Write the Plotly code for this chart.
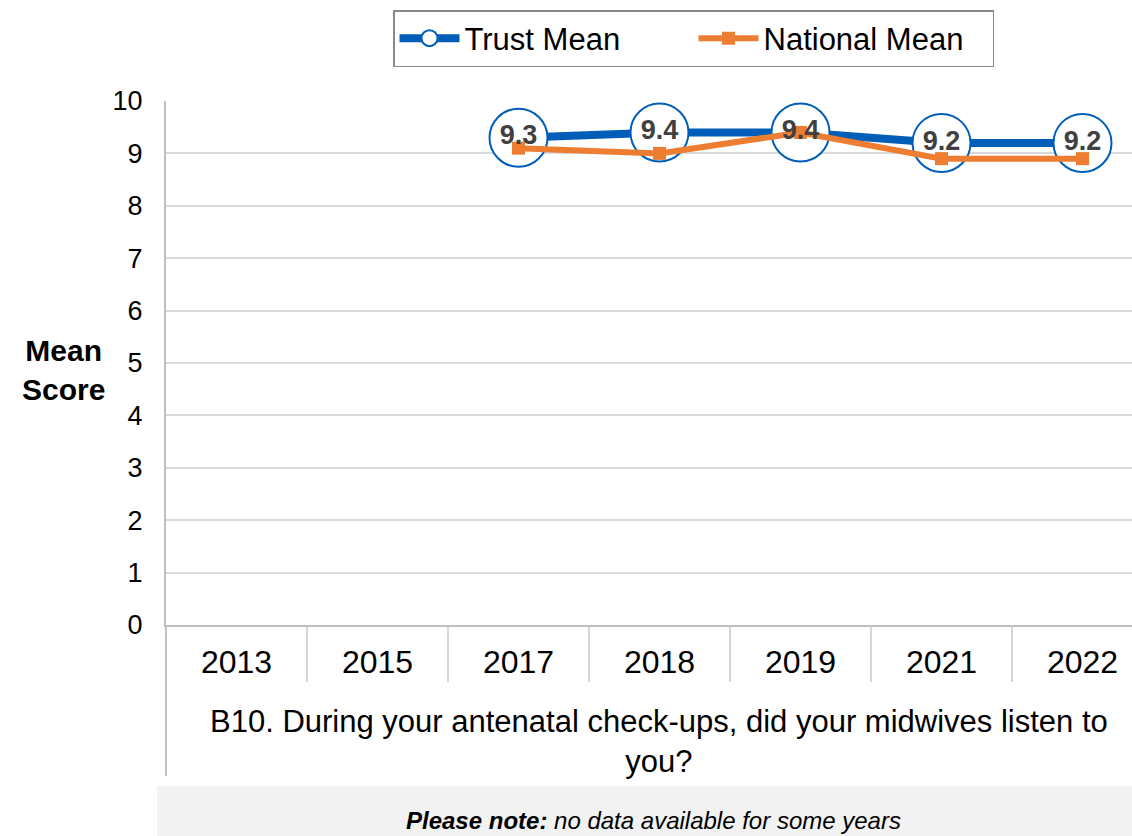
import plotly.graph_objects as go

years = ["2013", "2015", "2017", "2018", "2019", "2021", "2022"]
trust_mean = [None, None, 9.3, 9.4, 9.4, 9.2, 9.2]
national_mean = [None, None, 9.1, 9.0, 9.4, 8.9, 8.9]
trust_labels = ["" if v is None else f"{v:.1f}" for v in trust_mean]

question = "B10. During your antenatal check-ups, did your midwives listen to<br>you?"
note = "<b><i>Please note:</i></b><i> no data available for some years</i>"

BLUE = "#005EB8"
ORANGE = "#ED7D31"
FONT = "Arial, Liberation Sans, sans-serif"

W, H = 1132, 836
L, R, T, B = 166, 0, 101, 211
pw, ph = W - L - R, H - T - B


def px_x(x):
    return (x - L) / pw


def px_y(y):
    return (H - B - y) / ph


fig = go.Figure()
fig.add_trace(go.Scatter(
    x=years, y=trust_mean, name="Trust Mean", mode="lines+markers",
    line=dict(color=BLUE, width=8),
    marker=dict(symbol="circle", size=58, color="white", line=dict(color=BLUE, width=2)),
    cliponaxis=False,
))
fig.add_trace(go.Scatter(
    x=years, y=national_mean, name="National Mean", mode="lines+markers",
    line=dict(color=ORANGE, width=6),
    marker=dict(symbol="square", size=13, color=ORANGE),
    cliponaxis=False,
))
fig.add_trace(go.Scatter(
    x=years, y=trust_mean, text=trust_labels, mode="text", showlegend=False,
    textposition="middle center", hoverinfo="skip",
    textfont=dict(family=FONT, size=27, color="#404040", weight="bold"),
    cliponaxis=False,
))

# category separators below the axis
for i in range(len(years) - 1):
    fig.add_shape(type="line", xref="x", yref="paper", x0=i + 0.5, x1=i + 0.5,
                  y0=0, y1=px_y(682), line=dict(color="#C8C8C8", width=1.5))
fig.add_shape(type="line", xref="paper", yref="paper", x0=0, x1=0,
              y0=0, y1=px_y(776), line=dict(color="#C0C0C0", width=2))
# note box
fig.add_shape(type="rect", xref="paper", yref="paper", x0=px_x(157), x1=1.0,
              y0=px_y(786), y1=px_y(840), fillcolor="#F2F2F2", line_width=0, layer="below")

fig.add_annotation(xref="paper", yref="paper", x=px_x(63), y=px_y(370),
                   xanchor="center", yanchor="middle",
                   text="<b>Mean<br>Score</b>", showarrow=False,
                   font=dict(family=FONT, size=30, color="black"))
fig.add_annotation(xref="paper", yref="paper", x=px_x(659), y=px_y(741),
                   xanchor="center", yanchor="middle",
                   text=question, showarrow=False,
                   font=dict(family=FONT, size=31, color="black"))
fig.add_annotation(xref="paper", yref="paper", x=px_x(653), y=px_y(820),
                   xanchor="center", yanchor="middle",
                   text=note, showarrow=False,
                   font=dict(family=FONT, size=24, color="black"))

fig.update_layout(
    width=W, height=H,
    margin=dict(l=L, r=R, t=T, b=B),
    paper_bgcolor="white", plot_bgcolor="white",
    font=dict(family=FONT, color="black"),
    legend=dict(
        orientation="h", x=px_x(393), y=px_y(10), xanchor="left", yanchor="top",
        bordercolor="#888888", borderwidth=1.5, bgcolor="white",
        font=dict(family=FONT, size=31, color="black"),
        itemwidth=60, entrywidth=224,
    ),
    xaxis=dict(
        type="category", range=[-0.5, -0.5 + pw / 141], showgrid=False,
        showline=True, linecolor="#BFBFBF", linewidth=2, ticks="",
        tickfont=dict(family=FONT, size=32, color="black"), ticklabelstandoff=8,
    ),
    yaxis=dict(
        range=[0, 10], dtick=1, showgrid=True, gridcolor="#D9D9D9", gridwidth=1.5,
        showline=True, linecolor="#BFBFBF", linewidth=2, zeroline=False, ticks="",
        tickfont=dict(family=FONT, size=27, color="black"), ticklabelstandoff=16,
    ),
    showlegend=True,
)

fig.write_html("out.html", config={"displayModeBar": False},
               post_script="document.body.style.margin='0';")
